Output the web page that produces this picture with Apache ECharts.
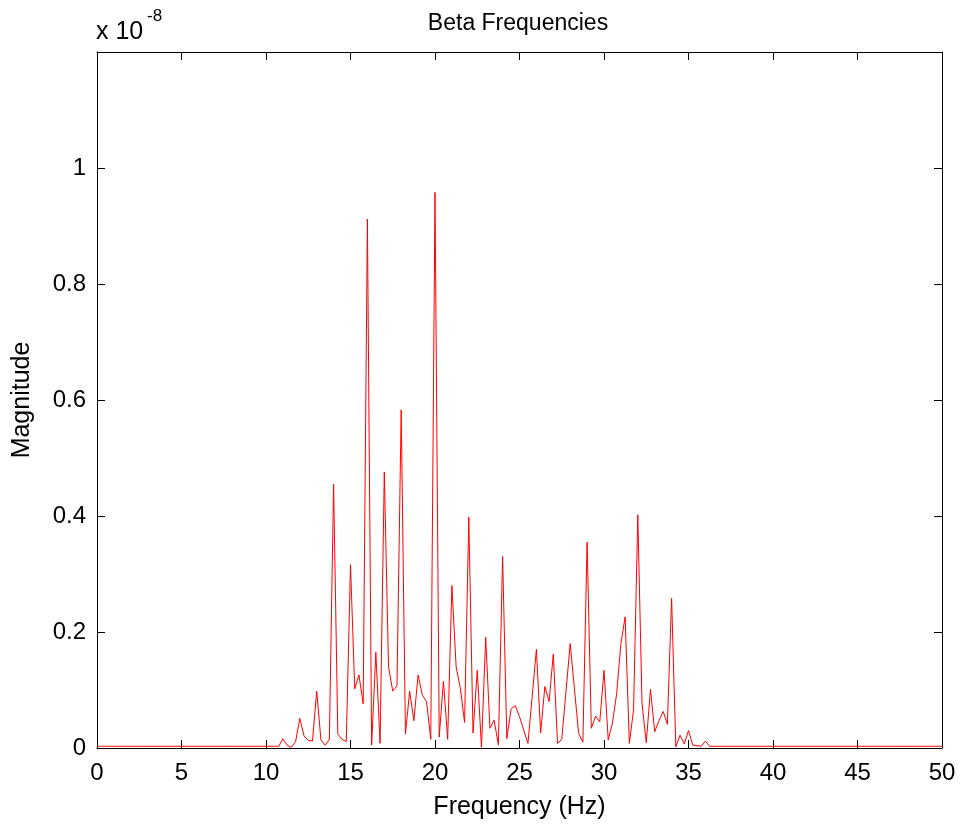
<!DOCTYPE html>
<html>
<head>
<meta charset="utf-8">
<script src="https://cdn.jsdelivr.net/npm/echarts@6/dist/echarts.min.js"></script>
<style>
html,body{margin:0;padding:0;background:#fff;}
#chart{width:961px;height:826px;}
</style>
</head>
<body>
<div id="chart"></div>
<script>
// Frequency grid step (Hz) of the spectrum samples
const freqStep = 0.25;
// Magnitudes (x 1e-8) at 0, 0.25, 0.5, ... 50 Hz
const magnitudes = [
  // 0 - 10.5 Hz
  0.003,0.003,0.003,0.003,0.003,0.003,0.003,0.003,0.003,0.003,
  0.003,0.003,0.003,0.003,0.003,0.003,0.003,0.003,0.003,0.003,
  0.003,0.003,0.003,0.003,0.003,0.003,0.003,0.003,0.003,0.003,
  0.003,0.003,0.003,0.003,0.003,0.003,0.003,0.003,0.003,0.003,
  0.003,0.003,0.003,
  // 10.75 - 36.25 Hz
  0.003,0.016,0.005,0.001,0.011,0.051,0.021,0.013,0.012,0.098,
  0.014,0.005,0.015,0.455,0.024,0.015,0.011,0.316,0.102,0.126,
  0.076,0.912,0.005,0.165,0.008,0.476,0.140,0.098,0.107,0.583,
  0.024,0.098,0.047,0.126,0.091,0.080,0.015,0.958,0.019,0.115,
  0.015,0.280,0.140,0.103,0.044,0.398,0.026,0.134,0.001,0.191,
  0.034,0.048,0.005,0.330,0.016,0.067,0.073,0.054,0.031,0.008,
  0.089,0.170,0.026,0.106,0.080,0.162,0.008,0.015,0.097,0.180,
  0.102,0.025,0.010,0.355,0.034,0.055,0.045,0.134,0.014,0.043,
  0.094,0.180,0.226,0.008,0.066,0.402,0.077,0.009,0.101,0.028,
  0.047,0.063,0.041,0.258,0.002,0.022,0.007,0.030,0.005,0.004,
  0.003,0.012,0.003,
  // 36.5 - 50 Hz
  0.003,0.003,0.003,0.003,0.003,0.003,0.003,0.003,0.003,0.003,
  0.003,0.003,0.003,0.003,0.003,0.003,0.003,0.003,0.003,0.003,
  0.003,0.003,0.003,0.003,0.003,0.003,0.003,0.003,0.003,0.003,
  0.003,0.003,0.003,0.003,0.003,0.003,0.003,0.003,0.003,0.003,
  0.003,0.003,0.003,0.003,0.003,0.003,0.003,0.003,0.003,0.003,
  0.003,0.003,0.003,0.003,0.003
];
const xTicks = [0,5,10,15,20,25,30,35,40,45,50];
const yTicks = [0,0.2,0.4,0.6,0.8,1];

const titleText = 'Beta Frequencies';
const xName = 'Frequency (Hz)';
const yName = 'Magnitude';

const seriesData = magnitudes.map((v, i) => [i * freqStep, v]);

const FONT = 'Liberation Sans, Arial, sans-serif';
const chart = echarts.init(document.getElementById('chart'), null, {renderer: 'canvas'});
const axisCommon = {
  axisLine: {show: true, onZero: false, lineStyle: {color: '#000', width: 1}},
  splitLine: {show: false},
};
chart.setOption({
  animation: false,
  backgroundColor: '#fff',
  grid: {left: 97, right: 19, top: 52, bottom: 78},
  xAxis: [{
    type: 'value', min: 0, max: 50, interval: 5, position: 'bottom',
    name: xName, nameLocation: 'middle', nameGap: 47,
    nameTextStyle: {fontFamily: FONT, fontSize: 25, color: '#000'},
    axisTick: {show: true, inside: true, length: 8, lineStyle: {color: '#000'}},
    axisLabel: {fontFamily: FONT, fontSize: 24, color: '#000', margin: 13,
      formatter: v => xTicks.includes(v) ? String(v) : ''},
    ...axisCommon
  }, {
    type: 'value', min: 0, max: 50, interval: 5, position: 'top',
    axisTick: {show: true, inside: true, length: 8, lineStyle: {color: '#000'}},
    axisLabel: {show: false},
    ...axisCommon
  }],
  yAxis: [{
    type: 'value', min: 0, max: 1.2, interval: 0.2, position: 'left',
    name: yName, nameLocation: 'middle', nameGap: 62,
    nameTextStyle: {fontFamily: FONT, fontSize: 25, color: '#000'},
    axisTick: {show: true, inside: true, length: 8, lineStyle: {color: '#000'}},
    axisLabel: {fontFamily: FONT, fontSize: 24, color: '#000', margin: 11,
      formatter: v => {
        const r = Math.round(v * 10) / 10;
        return yTicks.includes(r) ? String(r) : '';
      }},
    ...axisCommon
  }, {
    type: 'value', min: 0, max: 1.2, interval: 0.2, position: 'right',
    axisTick: {show: true, inside: true, length: 8, lineStyle: {color: '#000'}},
    axisLabel: {show: false},
    ...axisCommon
  }],
  graphic: [
    {type: 'text', x: 518, y: 24, style: {text: titleText, font: '23px ' + FONT, fill: '#000', textAlign: 'center', textVerticalAlign: 'middle'}},
    {type: 'text', left: 96, top: 20, style: {text: 'x 10', font: '25px ' + FONT, fill: '#000'}},
    {type: 'text', left: 147, top: 8, style: {text: '-8', font: '17px ' + FONT, fill: '#000'}}
  ],
  series: [{
    type: 'line', xAxisIndex: 0, yAxisIndex: 0,
    data: seriesData, showSymbol: false, symbol: 'none',
    lineStyle: {color: '#ff0000', width: 1},
    itemStyle: {color: '#ff0000'},
    z: 5
  }]
});
</script>
</body>
</html>
